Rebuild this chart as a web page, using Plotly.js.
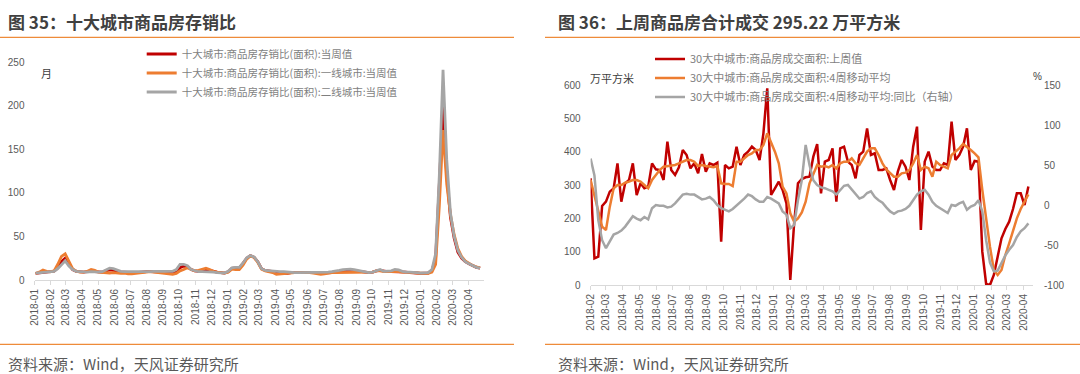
<!DOCTYPE html>
<html><head><meta charset="utf-8">
<script src="https://cdn.plot.ly/plotly-3.0.1.min.js"></script>
<style>html,body{margin:0;padding:0;background:#fff;}#chart{width:1080px;height:374px;}</style>
</head><body><div id="chart"></div>
<script>
// ---------- data ----------
const leftStartDate = '2018-01-03';
const rightStartDate = '2018-02-01';

const stockRatioTotal = [7.5,8,9,9.5,9.5,10,14,21,25,18,12,10,9.5,9,9.5,10,9.5,9,9,10.5,11.5,11,10,9,9,8.5,8.5,8.5,9,9,9.5,9.5,9.5,9,9,8.5,8.5,8.5,10,14,16,15.5,12,10.5,10,10.5,12,11,9.5,9,8.5,8,9.5,13.5,14,14,19,25,28,26,21,13,11,10.5,10,9,8,7.5,7.5,8.5,8.5,8.5,8.5,9,8.5,8.5,8.5,8,8,8.5,8.5,9,9.5,10.5,10.5,10,10,9.5,9.5,9,8.5,9,10.5,11,10,9.5,9.5,9.5,9.5,9,9,8.5,8.5,8,7.5,7.5,8,11,25,110,200,120,72,48,32,25,21,18.5,16,14.5,13.5];
const stockRatioTier1 = [7.5,9,11.5,10,9.5,10.5,18,27,30,22,13,10,9,9,10,12,11,9,8.5,8,8,8.5,8,7.5,8,7,7,7.5,8.5,9,9.5,9.5,9,8.5,7.5,7,7,6.5,7.5,10.5,12,14,12,10.5,11,12,13.5,12,10,9,8.5,8,9,12.5,12,12,17,24,27.5,26,20,12.5,10.5,9.5,8.5,6.5,7,7.5,8,8.5,8.5,8.5,8.5,9,8.5,8,7,6.5,7,8,8.5,8.5,8.5,9,9,8.5,9,9,9,9,8.5,9,10.5,10.5,9.5,9.5,10,10,9.5,9,9,8.5,8.5,8,7.5,7.5,7.5,9,18,85,172,110,75,52,36,27,22,19,16.5,15,14];
const stockRatioTier2 = [8,8.5,9,9.5,9.5,10,13,18,22,16,12,10,9.5,9.5,9,9.5,9,9,9.5,12,13.5,13,11.5,10,9.5,9.5,9,9,9.5,9.5,9.5,9.5,10,10,10.5,10,10,10,12,18,18,16.5,12,10.5,9.5,9.5,9.5,9,9,8.5,8.5,8,10,14,14.5,14.5,19.5,25.5,28,26.5,21,13,11,10.5,10,9.5,9.5,9.5,9,9,8.5,8.5,8.5,8.5,8.5,8.5,8.5,8.5,8.5,9,9.5,10,11,12,12.5,12.5,12,11,10,9.5,8.5,9,10.5,12,10,10,10.5,12,11.5,10,9,9,9,8.5,8,8,8.5,12,30,120,241,138,77,50,34,26,21,18.5,16,14.5,13.5];

const salesWeekly = [320,80,85,237,250,280,290,365,250,305,315,365,270,305,290,295,365,347,345,315,430,345,330,353,405,390,350,365,335,393,340,365,360,367,130,360,350,355,415,360,390,400,415,405,375,455,590,270,290,310,285,245,15,185,305,318,323,325,385,423,275,370,375,410,250,410,415,370,360,320,390,400,470,390,395,345,345,350,315,285,340,375,355,315,415,475,165,370,400,355,345,345,365,360,490,375,390,415,470,345,372,370,100,3,0,30,85,140,168,190,228,275,275,240,295.22];
const salesMA4 = [315,265,215,175,165,235,290,300,300,307,310,315,315,310,300,290,315,330,345,355,357,357,360,365,370,375,375,370,357,360,357,355,353,357,305,303,303,297,370,370,380,390,395,405,405,420,455,430,400,365,295,275,215,190,200,218,250,305,330,360,355,357,353,360,350,365,370,370,380,365,360,380,400,410,410,390,365,347,335,325,325,335,337,345,365,390,345,355,350,325,370,360,355,350,390,400,410,423,415,405,395,383,285,195,115,45,30,45,90,125,165,200,228,248,272];
const salesMA4YoY = [58,37,-19,-44,-54,-46,-37,-35,-32,-27,-21,-14,-17,-19,-15,-18,-4,0,-1,-1,-3,-2,2,8,13,14,13,13,10,7,8,10,6,0,-4,-6,-8,-5,-1,3,8,13,11,7,4,4,10,8,5,2,-8,-12,-29,-25,6,31,75,50,31,25,22,21,19,17,13,19,24,25,19,13,8,10,15,17,10,6,3,-3,-8,-11,-8,-7,-5,-1,6,13,17,19,13,4,-1,-4,-8,-10,0,-1,2,4,-6,-2,0,6,-8,-44,-72,-83,-82,-72,-63,-56,-50,-40,-33,-29,-23];

const leftNames = ['十大城市:商品房存销比(面积):当周值','十大城市:商品房存销比(面积):一线城市:当周值','十大城市:商品房存销比(面积):二线城市:当周值'];
const rightNames = ['30大中城市:商品房成交面积:上周值','30大中城市:商品房成交面积:4周移动平均','30大中城市:商品房成交面积:4周移动平均:同比（右轴）'];
const rightAxisTicks = [-100,-50,0,50,100,150];
const rightAxisTickText = ['-100','-50','0','50','100','150'];

// ---------- helpers ----------
function weeklyDates(start, n){
  const p = start.split('-').map(Number);
  const t0 = Date.UTC(p[0], p[1]-1, p[2]);
  const out = [];
  for(let i=0;i<n;i++){ out.push(new Date(t0 + i*7*86400000).toISOString().slice(0,10)); }
  return out;
}
const W = 1080, H = 374;
const px = v => v / W;
const py = v => (H - v) / H;

const leftDates = weeklyDates(leftStartDate, stockRatioTotal.length);
const rightDates = weeklyDates(rightStartDate, salesWeekly.length);

const RED = '#C00000', ORANGE = '#ED7D31', GRAY = '#A5A5A5';
const CJK = '"Noto Sans CJK SC", "Liberation Sans", sans-serif';
const NUM = '"Liberation Sans", "Noto Sans CJK SC", sans-serif';

const traces = [
  {x:leftDates, y:stockRatioTotal, name:leftNames[0], type:'scatter', mode:'lines', line:{color:RED,width:2.8}, xaxis:'x', yaxis:'y', legend:'legend'},
  {x:leftDates, y:stockRatioTier1, name:leftNames[1], type:'scatter', mode:'lines', line:{color:ORANGE,width:2.8}, xaxis:'x', yaxis:'y', legend:'legend'},
  {x:leftDates, y:stockRatioTier2, name:leftNames[2], type:'scatter', mode:'lines', line:{color:GRAY,width:2.8}, xaxis:'x', yaxis:'y', legend:'legend'},
  {x:rightDates, y:salesWeekly, name:rightNames[0], type:'scatter', mode:'lines', line:{color:RED,width:2.5}, xaxis:'x2', yaxis:'y2', legend:'legend2'},
  {x:rightDates, y:salesMA4, name:rightNames[1], type:'scatter', mode:'lines', line:{color:ORANGE,width:2.5}, xaxis:'x2', yaxis:'y2', legend:'legend2'},
  {x:rightDates, y:salesMA4YoY, name:rightNames[2], type:'scatter', mode:'lines', line:{color:GRAY,width:2.5}, xaxis:'x2', yaxis:'y3', legend:'legend2'}
];

const xCommon = {
  type:'date', dtick:'M1', tickformat:'%Y-%m', tickangle:-90,
  showline:true, linecolor:'#d9d9d9', linewidth:1, ticks:'outside', ticklen:4, tickcolor:'#d9d9d9',
  showgrid:false, zeroline:false, tickfont:{family:NUM, size:10, color:'#595959'}, fixedrange:true
};
const yCommon = {showgrid:false, zeroline:false, showline:false, ticks:'', tickfont:{family:NUM, size:10, color:'#595959'}, fixedrange:true};

const orangeRule = '#EE8B3A';
const layout = {
  width:W, height:H, margin:{l:0,r:0,t:0,b:0}, paper_bgcolor:'#ffffff', plot_bgcolor:'rgba(0,0,0,0)',
  showlegend:true, hovermode:false,
  font:{family:CJK, size:10, color:'#595959'},
  xaxis:Object.assign({}, xCommon, {domain:[px(34.5), px(484)], range:['2018-01-01','2020-04-29 10:00'], tick0:'2018-01-01', anchor:'y'}),
  yaxis:Object.assign({}, yCommon, {domain:[py(280), py(62)], range:[0,250], dtick:50, anchor:'x', ticklabelstandoff:9}),
  xaxis2:Object.assign({}, xCommon, {domain:[px(590.6), px(1033)], range:['2018-02-01','2020-04-17 10:00'], tick0:'2018-02-01', anchor:'y2'}),
  yaxis2:Object.assign({}, yCommon, {domain:[py(285), py(85)], range:[0,600], dtick:100, anchor:'x2', ticklabelstandoff:9}),
  yaxis3:Object.assign({}, yCommon, {domain:[py(285), py(85)], range:[-100,150], tickvals:rightAxisTicks, ticktext:rightAxisTickText, overlaying:'y2', side:'right', anchor:'x2', ticklabelstandoff:10}),
  legend:{x:px(141.7), y:py(39.5), xanchor:'left', yanchor:'top', bgcolor:'rgba(0,0,0,0)', borderwidth:0, font:{family:CJK, size:10.5, color:'#7f7f7f'}, traceorder:'normal'},
  legend2:{x:px(650), y:py(44.5), xanchor:'left', yanchor:'top', bgcolor:'rgba(0,0,0,0)', borderwidth:0, font:{family:CJK, size:11, color:'#7f7f7f'}, traceorder:'normal'},
  shapes:[
    {type:'line', xref:'paper', yref:'paper', x0:0, x1:px(514), y0:py(37.3), y1:py(37.3), line:{color:orangeRule, width:1.3}},
    {type:'line', xref:'paper', yref:'paper', x0:px(545), x1:1, y0:py(37.3), y1:py(37.3), line:{color:orangeRule, width:1.3}},
    {type:'line', xref:'paper', yref:'paper', x0:0, x1:px(514), y0:py(344.3), y1:py(344.3), line:{color:orangeRule, width:1.3}},
    {type:'line', xref:'paper', yref:'paper', x0:px(545), x1:1, y0:py(344.3), y1:py(344.3), line:{color:orangeRule, width:1.3}}
  ],
  annotations:[
    {text:'<b>图 35：十大城市商品房存销比</b>', xref:'paper', yref:'paper', x:px(6), y:py(21), xanchor:'left', yanchor:'middle', showarrow:false, font:{family:CJK, size:17, color:'#404040'}},
    {text:'<b>图 36：上周商品房合计成交 295.22 万平方米</b>', xref:'paper', yref:'paper', x:px(556), y:py(21), xanchor:'left', yanchor:'middle', showarrow:false, font:{family:CJK, size:17, color:'#404040'}},
    {text:'资料来源：Wind，天风证券研究所', xref:'paper', yref:'paper', x:px(6), y:py(363), xanchor:'left', yanchor:'middle', showarrow:false, font:{family:CJK, size:15, color:'#595959'}},
    {text:'资料来源：Wind，天风证券研究所', xref:'paper', yref:'paper', x:px(556), y:py(363), xanchor:'left', yanchor:'middle', showarrow:false, font:{family:CJK, size:15, color:'#595959'}},
    {text:'月', xref:'paper', yref:'paper', x:px(46.7), y:py(72.5), xanchor:'center', yanchor:'middle', showarrow:false, font:{family:CJK, size:11, color:'#404040'}},
    {text:'万平方米', xref:'paper', yref:'paper', x:px(612), y:py(78.5), xanchor:'center', yanchor:'middle', showarrow:false, font:{family:CJK, size:11, color:'#404040'}},
    {text:'%', xref:'paper', yref:'paper', x:px(1037.6), y:py(76), xanchor:'center', yanchor:'middle', showarrow:false, font:{family:NUM, size:10, color:'#404040'}}
  ]
};

Plotly.newPlot('chart', traces, layout, {staticPlot:true, displayModeBar:false});
</script></body></html>
